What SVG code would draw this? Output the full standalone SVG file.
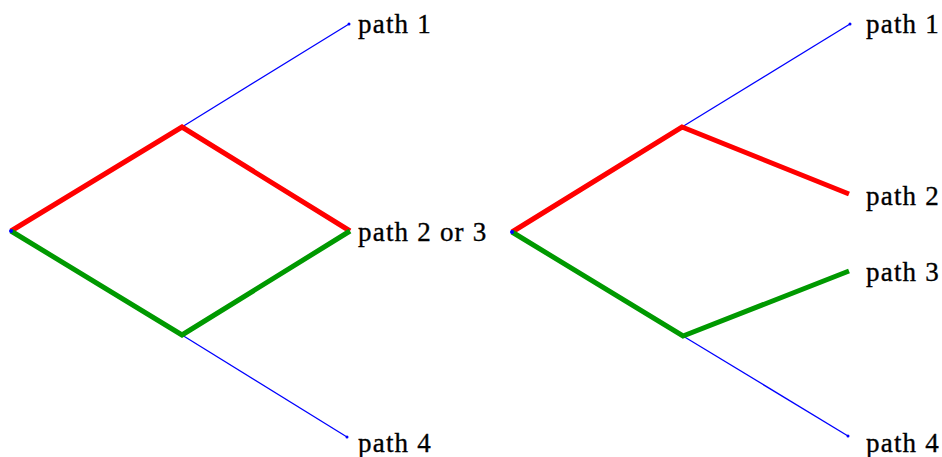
<svg xmlns="http://www.w3.org/2000/svg" width="942" height="457" viewBox="0 0 942 457">
<style>
.b{stroke:#0000ff;stroke-width:1.3;fill:none}
.r{stroke:#ff0000;stroke-width:5;fill:none;stroke-linejoin:miter}
.g{stroke:#009900;stroke-width:5;fill:none;stroke-linejoin:miter}
.d{fill:#0000ff}
text{font-family:"Liberation Serif","Times New Roman",serif;font-size:27px;fill:#000;stroke:#000;stroke-width:0.35;letter-spacing:1.2px}
</style>
<rect width="942" height="457" fill="#fff"/>
<g id="connectors">
<line class="b" x1="182" y1="127" x2="349" y2="24"/>
<line class="b" x1="182" y1="335" x2="347" y2="437"/>
<polyline class="r" points="11,231 182,127 350,231"/>
<polyline class="g" points="11,231 182,335 350,231"/>
<line class="b" x1="682" y1="127" x2="850" y2="24"/>
<line class="b" x1="683" y1="336" x2="848" y2="436"/>
<polyline class="r" points="512,232 682,127 849,194"/>
<polyline class="g" points="512,232 683,336 849,271"/>
</g>
<g id="left-root"><circle class="d" cx="11" cy="231" r="2"/></g>
<g id="left-end1"><circle class="d" cx="349" cy="24" r="1.5"/><text x="358" y="33">path 1</text></g>
<g id="left-end23"><text x="358" y="241">path 2 or 3</text></g>
<g id="left-end4"><circle class="d" cx="347" cy="437" r="1.5"/><text x="358" y="452">path 4</text></g>
<g id="right-root"><circle class="d" cx="512" cy="232" r="2"/></g>
<g id="right-end1"><circle class="d" cx="850" cy="24" r="1.5"/><text x="866" y="33">path 1</text></g>
<g id="right-end2"><text x="866" y="205">path 2</text></g>
<g id="right-end3"><text x="866" y="281">path 3</text></g>
<g id="right-end4"><circle class="d" cx="848" cy="436" r="1.5"/><text x="866" y="452">path 4</text></g>
</svg>
